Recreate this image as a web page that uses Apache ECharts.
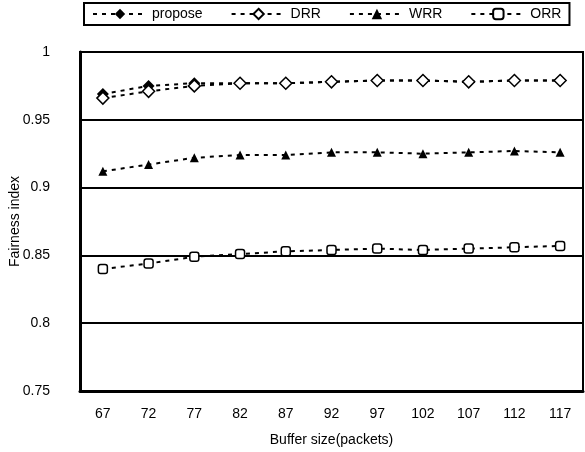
<!DOCTYPE html>
<html>
<head>
<meta charset="utf-8">
<script src="https://cdn.jsdelivr.net/npm/echarts@6/dist/echarts.min.js"></script>
<style>
  html, body { margin: 0; padding: 0; background: #fff; }
  #chart { width: 585px; height: 452px; }
</style>
</head>
<body>
<div id="chart"></div>
<script>
// 缓冲区大小 (packets)
const bufferSizes = ['67', '72', '77', '82', '87', '92', '97', '102', '107', '112', '117']

// 各算法的公平性指数
const proposeValues = [0.969, 0.975, 0.977, 0.977, 0.977, 0.978, 0.979, 0.979, 0.978, 0.979, 0.979]
const drrValues = [0.966, 0.971, 0.975, 0.977, 0.977, 0.978, 0.979, 0.979, 0.978, 0.979, 0.979]
const wrrValues = [0.912, 0.917, 0.922, 0.924, 0.924, 0.926, 0.926, 0.925, 0.926, 0.927, 0.926]
const orrValues = [0.840, 0.844, 0.849, 0.851, 0.853, 0.854, 0.855, 0.854, 0.855, 0.856, 0.857]

const font = 'Liberation Sans, Arial, sans-serif'

const makeSeries = (name, data, symbol, size, filled) => ({
  name,
  type: 'line',
  data,
  symbol,
  symbolSize: size,
  lineStyle: { color: '#000', width: 2, type: [4, 5] },
  itemStyle: {
    color: filled ? '#000' : '#fff',
    borderColor: '#000',
    borderWidth: filled ? 0 : 1.5
  },
  emphasis: { disabled: true }
})

const chart = echarts.init(document.getElementById('chart'))

chart.setOption({
  animation: false,
  textStyle: { fontFamily: font, color: '#000' },
  legend: {
    left: 84,
    top: 3,
    width: 499,
    padding: [4, 8],
    borderColor: '#000',
    borderWidth: 2,
    itemWidth: 54,
    itemHeight: 13,
    itemGap: 28,
    textStyle: { fontFamily: font, fontSize: 14, color: '#000' },
    data: ['propose', 'DRR', 'WRR', 'ORR']
  },
  grid: {
    left: 80,
    right: 2,
    top: 52,
    bottom: 61,
    outerBoundsMode: 'none',
    containLabel: false,
    show: true,
    borderColor: '#000',
    borderWidth: 2
  },
  xAxis: {
    type: 'category',
    data: bufferSizes,
    name: 'Buffer size(packets)',
    nameLocation: 'middle',
    nameGap: 42,
    nameMoveOverlap: false,
    nameTextStyle: { fontSize: 14, color: '#000' },
    axisLine: { lineStyle: { color: '#000', width: 3 } },
    axisTick: { inside: true, length: 4, lineStyle: { color: '#555', width: 1 } },
    axisLabel: { fontSize: 14, color: '#000', margin: 16 }
  },
  yAxis: {
    type: 'value',
    min: 0.75,
    max: 1,
    interval: 0.05,
    name: 'Fairness index',
    nameLocation: 'middle',
    nameGap: 58,
    nameMoveOverlap: false,
    nameTextStyle: { fontSize: 14, color: '#000' },
    axisLine: { show: true, lineStyle: { color: '#000', width: 3 } },
    axisTick: { show: false },
    axisLabel: { fontSize: 14, color: '#000', margin: 30 },
    splitLine: { lineStyle: { color: '#000', width: 2 } }
  },
  series: [
    makeSeries('propose', proposeValues, 'diamond', 12, true),
    makeSeries('DRR', drrValues, 'diamond', 12, false),
    makeSeries('WRR', wrrValues, 'triangle', 9, true),
    makeSeries('ORR', orrValues, 'roundRect', 9, false)
  ]
})
</script>
</body>
</html>
